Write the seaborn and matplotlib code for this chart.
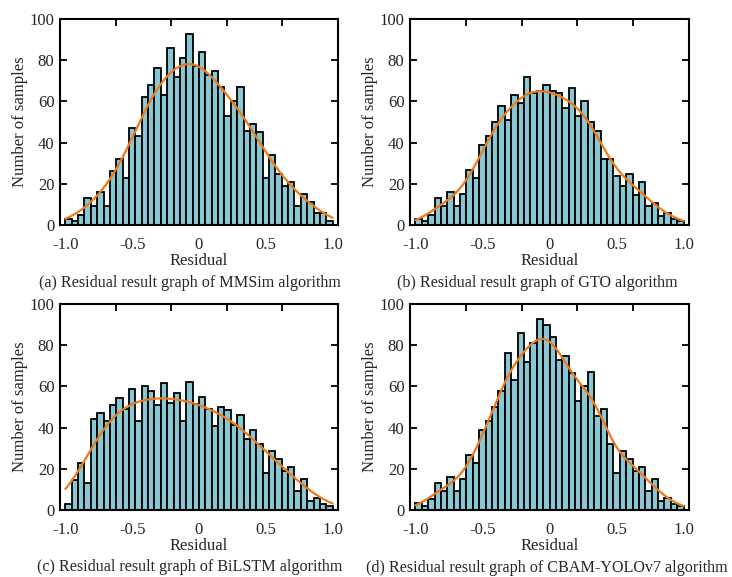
import numpy as np
import pandas as pd
import matplotlib
matplotlib.use("Agg")
import matplotlib.pyplot as plt
import seaborn as sns

# ---- data (counts per bin, 42 bins from -1 to 1) ----
bin_lo, bin_hi, n_bins = -1.0, 1.0, 42

counts_mmsim = [3, 2, 5, 13, 9, 16, 9, 26, 32, 23, 47, 43, 62, 68, 76, 63, 86, 72, 81, 92.5, 77,
                84, 73, 75, 67, 53, 60, 67, 45.5, 49, 45, 23, 34, 25, 19, 21, 9, 15, 11, 6, 6, 2]
counts_gto = [3, 2, 5, 13, 9, 16, 9, 15, 26.5, 23, 39, 43, 50, 58, 51, 63, 59, 72, 64, 65, 68,
              65, 64, 57, 66.5, 53, 60, 50, 45.5, 32, 32, 24, 19, 25, 14.5, 21, 9, 10.5, 4.5, 6, 3, 2]
counts_bilstm = [3, 14.5, 23, 13, 44, 47, 43, 51, 54.5, 49, 58.5, 43, 60, 58, 51, 61.5, 52, 57, 43, 62, 51.5,
                 55, 49, 41, 50, 48.5, 41.5, 46, 34.5, 39, 32, 18, 28.5, 25, 19, 21, 9, 15, 4.5, 6, 3, 2]
counts_cbam = [3.5, 2, 5.5, 13, 9, 16, 9, 15, 26.5, 23, 39, 43, 50, 58, 76, 63, 86, 72, 81, 92.5, 90,
               84, 73, 75, 66.5, 53, 60, 67, 45.5, 49, 32, 18, 28.5, 25, 19, 21, 9, 15, 4.5, 6, 3, 2]

captions = ["(a) Residual result graph of MMSim algorithm",
            "(b) Residual result graph of GTO algorithm",
            "(c) Residual result graph of BiLSTM algorithm",
            "(d) Residual result graph of CBAM-YOLOv7 algorithm"]
x_ticks = [-1.0, -0.5, 0, 0.5, 1.0]
x_tick_labels = ["-1.0", "-0.5", "0", "0.5", "1.0"]
y_ticks = [0, 20, 40, 60, 80, 100]
bw = [0.7, 0.55, 0.72, 0.5]

series = [counts_mmsim, counts_gto, counts_bilstm, counts_cbam]

# ---- styling ----
sns.set_theme(style="white")
plt.rcParams["font.family"] = ["Liberation Serif", "DejaVu Serif"]
plt.rcParams["axes.unicode_minus"] = False

bar_color = "#89C8D3"
line_color = "#EE7A1E"

fig = plt.figure(figsize=(7.32, 5.77), dpi=100)
W, H = 732, 577
boxes = [(60, 19, 338, 225), (410, 19, 689, 225), (60, 304, 338, 510), (410, 304, 689, 510)]
cap_pos = [(190, 283), (537, 283), (190, 567), (547, 568)]

bw_bin = (bin_hi - bin_lo) / n_bins
edges = np.linspace(bin_lo, bin_hi, n_bins + 1)
centers = (edges[:-1] + edges[1:]) / 2

for i, (cnts, box) in enumerate(zip(series, boxes)):
    l, t, r, b = box
    ax = fig.add_axes([l / W, 1 - b / H, (r - l) / W, (b - t) / H])
    df = pd.DataFrame({"Residual": centers, "count": cnts})
    sns.histplot(data=df, x="Residual", weights="count", binwidth=bw_bin,
                 binrange=(bin_lo, bin_hi), kde=True,
                 kde_kws={"bw_adjust": bw[i], "cut": 3, "clip": (bin_lo, bin_hi)},
                 color=bar_color, alpha=1.0, edgecolor="black", linewidth=1.3,
                 line_kws={"linewidth": 1.6}, ax=ax)
    for ln in ax.lines:
        ln.set_color(line_color)
        ln.set_zorder(5)
    ax.set_xlim(-1.04, 1.04)
    ax.set_ylim(0, 100)
    ax.set_xticks(x_ticks)
    ax.set_xticklabels(x_tick_labels)
    ax.set_yticks(y_ticks)
    ax.set_xticks([-0.624, -0.208, 0.208, 0.624], minor=True)
    ax.tick_params(axis="x", which="major", bottom=False, top=False, labelsize=12, pad=2.5)
    ax.tick_params(axis="x", which="minor", bottom=False, top=True, direction="in",
                   length=5, width=1.3, color="black")
    ax.tick_params(axis="y", which="major", left=True, right=True, direction="in",
                   length=5, width=1.3, color="black", labelsize=12, pad=4)
    for sp in ax.spines.values():
        sp.set_visible(True)
        sp.set_color("black")
        sp.set_linewidth(1.5)
    ax.set_xlabel("Residual", fontsize=12, labelpad=0)
    ax.set_ylabel("Number of samples", fontsize=12, labelpad=1)
    cx, cy = cap_pos[i]
    fig.text(cx / W, 1 - cy / H, captions[i], ha="center", va="center", fontsize=11.6)

fig.savefig("out.png", dpi=100)
